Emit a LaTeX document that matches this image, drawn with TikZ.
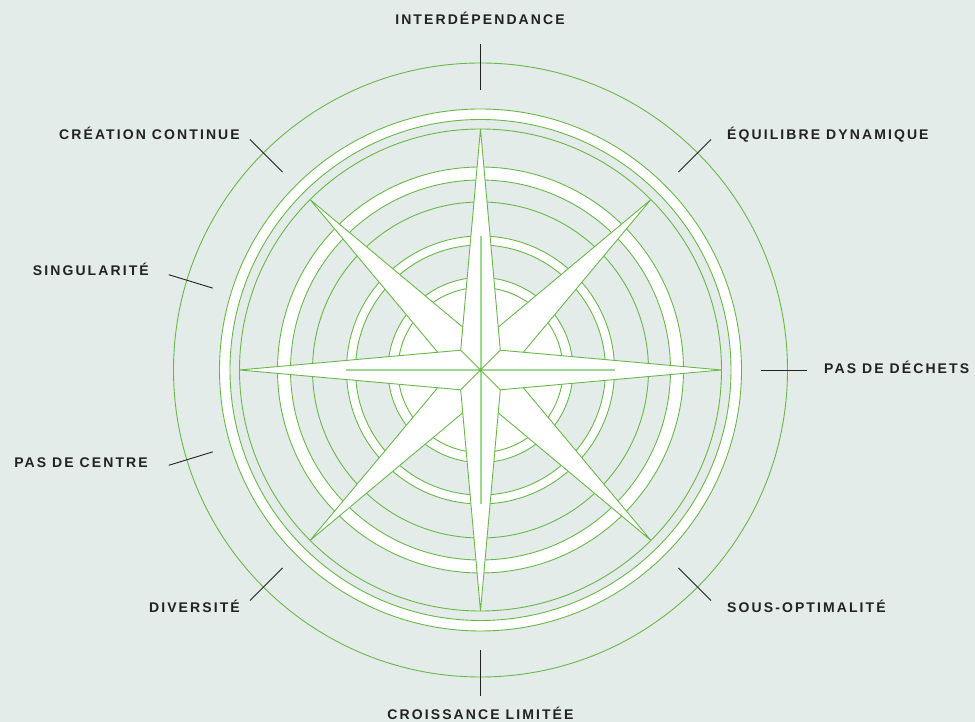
\documentclass[tikz,border=0pt]{standalone}
\usepackage{fontspec}
\setmainfont{Liberation Sans}
\newfontfamily\lblfont[LetterSpace=15]{Liberation Sans}
\usetikzlibrary{calc}

\definecolor{bgcol}{RGB}{228,236,233}
\definecolor{ringgreen}{RGB}{104,184,72}
\definecolor{palegreen}{RGB}{160,214,148}
\definecolor{inkcol}{RGB}{34,34,34}

\begin{document}
\begin{tikzpicture}[x=1pt, y=1pt,
    ring/.style={draw=ringgreen, line width=0.9pt},
    band/.style={fill=white, draw=ringgreen, line width=0.9pt, even odd rule},
    spike/.style={fill=white, draw=ringgreen, line width=0.9pt, line join=miter},
    axisline/.style={draw=palegreen, line width=2pt},
    tick/.style={draw=inkcol, line width=0.9pt},
    lbl/.style={font=\lblfont\bfseries\fontsize{14}{16}\selectfont, text=inkcol, inner sep=0pt},
]

% Canvas
\useasboundingbox (0,0) rectangle (975,722);
\fill[bgcol] (0,0) rectangle (975,722);
\coordinate (c) at (480.5,352);

% Rings, outside in
\draw[ring] (c) circle (307);
\draw[band] (c) circle (261) (c) circle (250.5);
\draw[ring] (c) circle (241);
\draw[band] (c) circle (203) (c) circle (190);
\draw[ring] (c) circle (168);
\draw[band] (c) circle (134) (c) circle (125);
\draw[ring, fill=white] (c) circle (92.5);
\draw[ring] (c) circle (82.5);

% Diagonal star (behind)
\draw[spike] ($(c)+(45:241)$) -- ($(c)+(90:28)$) -- ($(c)+(135:241)$) -- ($(c)+(180:28)$)
  -- ($(c)+(225:241)$) -- ($(c)+(270:28)$) -- ($(c)+(315:241)$) -- ($(c)+(0:28)$) -- cycle;

% Cardinal star (front)
\draw[spike] ($(c)+(0:241)$) -- ($(c)+(45:28)$) -- ($(c)+(90:241)$) -- ($(c)+(135:28)$)
  -- ($(c)+(180:241)$) -- ($(c)+(225:28)$) -- ($(c)+(270:241)$) -- ($(c)+(315:28)$) -- cycle;

% Centre lines
\draw[axisline] ($(c)+(-135,0)$) -- ($(c)+(134,0)$);
\draw[axisline] ($(c)+(0,134)$) -- ($(c)+(0,-134)$);
\draw[ring] ($(c)+(45:28)$) -- ($(c)+(225:28)$);
\draw[ring] ($(c)+(135:28)$) -- ($(c)+(315:28)$);
\fill[ringgreen] (c) circle (1.8);

% Ticks on the outer ring
\foreach \a in {90,45,0,-45,-90,-135,197,163,135}
  \draw[tick] ($(c)+(\a:280)$) -- ($(c)+(\a:326)$);

% Labels
\node[lbl, anchor=base] (interdep) at (480,697) {INTERDÉPENDANCE};
\node[lbl, anchor=base east] (creation) at (240,582) {CRÉATION CONTINUE};
\node[lbl, anchor=base west] (equilibre) at (727,582) {ÉQUILIBRE DYNAMIQUE};
\node[lbl, anchor=base east] (singul) at (149,446.5) {SINGULARITÉ};
\node[lbl, anchor=base west] (dechets) at (824,348.7) {PAS DE DÉCHETS};
\node[lbl, anchor=base east] (centre) at (148,254.7) {PAS DE CENTRE};
\node[lbl, anchor=base east] (diversite) at (240,109.7) {DIVERSITÉ};
\node[lbl, anchor=base west] (sousopt) at (727,109.7) {SOUS-OPTIMALITÉ};
\node[lbl, anchor=base] (croissance) at (480.5,2.5) {CROISSANCE LIMITÉE};

\end{tikzpicture}
\end{document}
